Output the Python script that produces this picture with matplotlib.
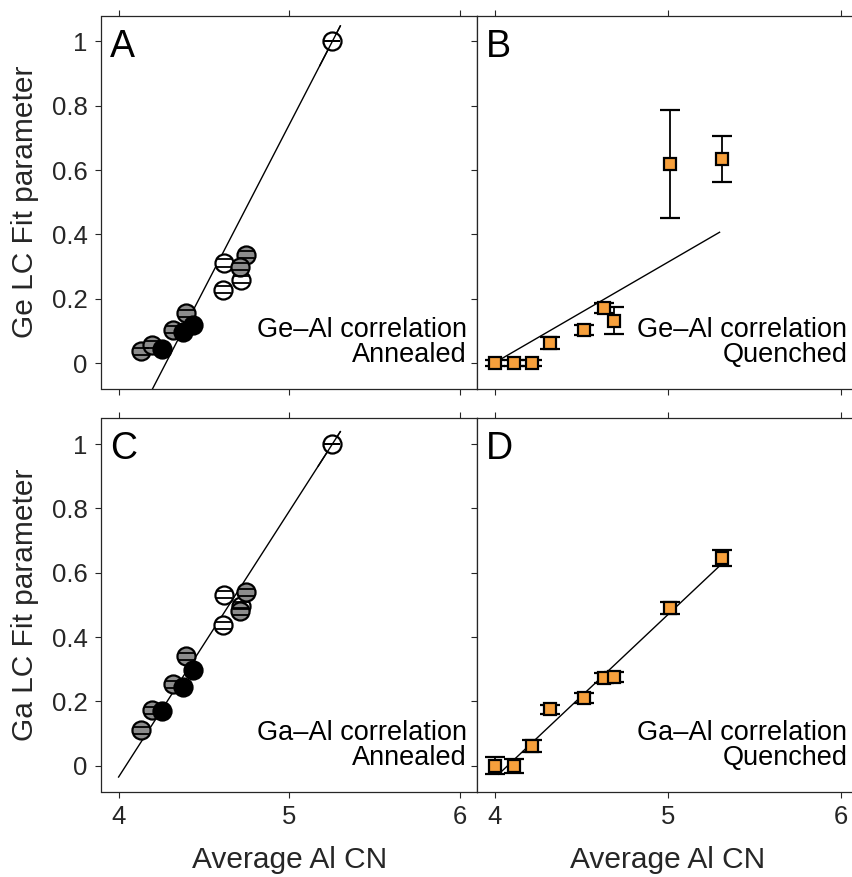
import numpy as np
import matplotlib
matplotlib.use('Agg')
import matplotlib.pyplot as plt

plt.rcParams['font.family'] = ['Liberation Sans', 'DejaVu Sans']

# annealed samples (panels A and C), grouped by marker style
x_slash = [5.247]
ge_slash = [1.0]
ga_slash = [1.0]

x_open = [4.62, 4.61, 4.718]
ge_open = [0.311, 0.228, 0.259]
ga_open = [0.531, 0.436, 0.497]

x_gray = [4.748, 4.71, 4.396, 4.318, 4.133, 4.195]
ge_gray = [0.337, 0.30, 0.155, 0.104, 0.036, 0.057]
ga_gray = [0.539, 0.48, 0.34, 0.254, 0.11, 0.172]

x_black = [4.435, 4.376, 4.256]
ge_black = [0.119, 0.098, 0.043]
ga_black = [0.299, 0.245, 0.169]

# quenched samples (panels B and D)
x_q = [4.004, 4.11, 4.217, 4.323, 4.517, 4.633, 4.69, 5.014, 5.314]
ge_q = [0.0, 0.0, 0.0, 0.062, 0.1035, 0.171, 0.131, 0.619, 0.635]
ge_q_err = [0.01, 0.01, 0.01, 0.019, 0.015, 0.015, 0.042, 0.167, 0.072]
ga_q = [0.0, 0.0, 0.061, 0.175, 0.211, 0.273, 0.275, 0.49, 0.645]
ga_q_err = [0.027, 0.022, 0.018, 0.015, 0.015, 0.015, 0.015, 0.018, 0.025]

# linear fits: slope, intercept, x range
fit_A = (1.026, -4.388, 4.10, 5.298)
fit_B = (0.312, -1.247, 4.014, 5.30)
fit_C = (0.827, -3.343, 4.0, 5.298)
fit_D = (0.507, -2.066, 4.023, 5.30)

W, H = 853, 877
fig = plt.figure(figsize=(W / 100, H / 100), dpi=100)

def pos(x0, y0, x1, y1):
    return [x0 / W, 1 - y1 / H, (x1 - x0) / W, (y1 - y0) / H]

axA = fig.add_axes(pos(101.5, 15.6, 477.3, 388.8))
axB = fig.add_axes(pos(477.3, 15.6, 858.0, 388.8))
axC = fig.add_axes(pos(101.5, 418.3, 477.3, 791.5))
axD = fig.add_axes(pos(477.3, 418.3, 858.0, 791.5))

tc = '#262626'
fs = 18.5

for ax in [axA, axB, axC, axD]:
    ax.set_xlim(3.9, 6.1)
    ax.set_ylim(-0.08, 1.08)
    ax.set_xticks([4, 5, 6])
    ax.set_yticks([0, 0.2, 0.4, 0.6, 0.8, 1])
    ax.set_yticklabels(['0', '0.2', '0.4', '0.6', '0.8', '1'])
    ax.tick_params(direction='out', length=4, width=0.8, colors=tc,
                   labelsize=fs, top=True, pad=6)
    for s in ax.spines.values():
        s.set_color(tc)
        s.set_linewidth(0.9)

for ax in [axA, axB]:
    ax.tick_params(labelbottom=False)
for ax in [axB, axD]:
    ax.tick_params(labelleft=False)
    ax.spines['right'].set_visible(False)

def fit_line(ax, fit, z=1):
    a, b, x0, x1 = fit
    xs = np.array([x0, x1])
    ax.plot(xs, a * xs + b, color='k', lw=1.0, zorder=z)

def annealed(ax, ys, fit):
    fit_line(ax, fit)
    groups = [(x_slash, ys[0], 'white', 0.0),
              (x_open, ys[1], 'white', 0.011),
              (x_gray, ys[2], '#8c8c8c', 0.011),
              (x_black, ys[3], 'black', 0.011)]
    for xs, yv, fc, err in groups:
        ax.plot(xs, yv, 'o', ms=13, mfc=fc, mec='k', mew=1.6, zorder=3)
        ax.errorbar(xs, yv, yerr=err, fmt='none', ecolor='k', elinewidth=0,
                    capsize=5.5, capthick=1.3, zorder=4)
    # fit line passes over the top reference marker
    a, b, x0, x1 = fit
    fit_line(ax, (a, b, x0 + (x1 - x0) * 0.9, x1), z=5)

def quenched(ax, ys, errs, fit):
    fit_line(ax, fit)
    ax.errorbar(x_q, ys, yerr=errs, fmt='s', ms=8.5, mfc='#f7a03c', mec='k',
                mew=1.6, ecolor='k', elinewidth=1.3, capsize=7, capthick=2,
                zorder=3)

annealed(axA, [ge_slash, ge_open, ge_gray, ge_black], fit_A)
quenched(axB, ge_q, ge_q_err, fit_B)
annealed(axC, [ga_slash, ga_open, ga_gray, ga_black], fit_C)
quenched(axD, ga_q, ga_q_err, fit_D)

labels = [(axA, 'A', 'Ge\u2013Al correlation', 'Annealed'),
          (axB, 'B', 'Ge\u2013Al correlation', 'Quenched'),
          (axC, 'C', 'Ga\u2013Al correlation', 'Annealed'),
          (axD, 'D', 'Ga\u2013Al correlation', 'Quenched')]
for ax, lab, l1, l2 in labels:
    ax.text(0.022, 0.965, lab, transform=ax.transAxes, fontsize=27,
            ha='left', va='top', color='k')
    ax.text(0.972, 0.157, l1, transform=ax.transAxes, fontsize=19.5,
            ha='right', va='center', color='k')
    ax.text(0.972, 0.09, l2, transform=ax.transAxes, fontsize=19.5,
            ha='right', va='center', color='k')

axA.set_ylabel('Ge LC Fit parameter', fontsize=21.5, color=tc, labelpad=9)
axC.set_ylabel('Ga LC Fit parameter', fontsize=21.5, color=tc, labelpad=9)
axC.set_xlabel('Average Al CN', fontsize=21.5, color=tc, labelpad=12)
axD.set_xlabel('Average Al CN', fontsize=21.5, color=tc, labelpad=12)

fig.savefig('out.png', dpi=100)
